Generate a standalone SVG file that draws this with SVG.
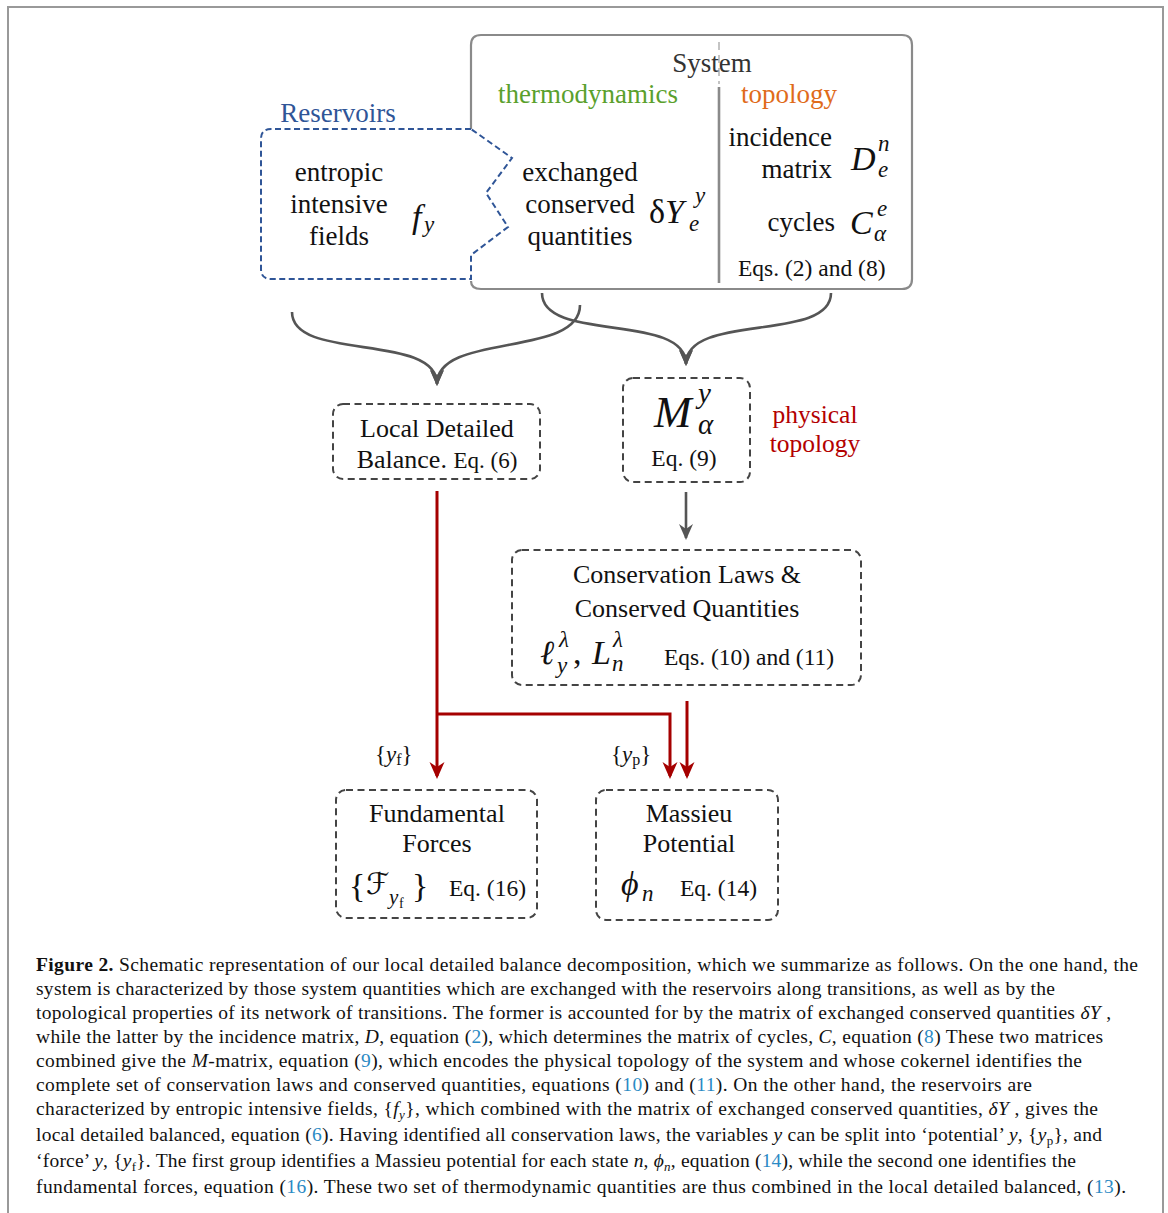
<svg xmlns="http://www.w3.org/2000/svg" width="1168" height="1213" viewBox="0 0 1168 1213">
  <style>
    text { font-family: "Liberation Serif", "DejaVu Serif", serif; fill: #111; }
    .lbl { font-size: 27px; }
    .eq { font-size: 23.5px; }
    .mi { font-style: italic; }
    .big { font-size: 34px; }
    .scr { font-size: 23px; font-style: italic; }
    .box { fill: #fff; stroke: #444; stroke-width: 2; stroke-dasharray: 7 4.5; }
    .gray { fill: none; stroke: #555; stroke-width: 2.6; }
    .red { fill: none; stroke: #a50000; stroke-width: 3; }
    .cap { font-size: 19.5px; }
    .ref { fill: #2a8ac4; }
  </style>
  <defs>
    <marker id="ahGray" markerUnits="userSpaceOnUse" markerWidth="18" markerHeight="16" refX="14" refY="7" orient="auto">
      <path d="M0,0 L16,7 L0,14 L5,7 Z" fill="#555"/>
    </marker>
    <marker id="ahRed" markerUnits="userSpaceOnUse" markerWidth="18" markerHeight="16" refX="14" refY="7.5" orient="auto">
      <path d="M0,0 L17,7.5 L0,15 L5,7.5 Z" fill="#a50000"/>
    </marker>
  </defs>

  <rect width="1168" height="1213" fill="#fff"/>
  <!-- page frame -->
  <rect x="8" y="7" width="1155" height="1230" fill="none" stroke="#999" stroke-width="2"/>

  <!-- System box -->
  <g id="system">
    <path d="M471,129 V45 Q471,35 481,35 H902 Q912,35 912,45 V279 Q912,289 902,289 H481 Q471,289 471,281" fill="none" stroke="#8a8a8a" stroke-width="2.2"/>
    <line x1="719" y1="42" x2="719" y2="84" stroke="#c4c4c4" stroke-width="2" stroke-dasharray="8 5"/>
    <line x1="719" y1="87" x2="719" y2="283" stroke="#8a8a8a" stroke-width="2.6"/>
    <text class="lbl" x="712" y="72" text-anchor="middle" style="fill:#333">System</text>
    <text class="lbl" x="588" y="103" text-anchor="middle" style="fill:#5aa02c">thermodynamics</text>
    <text class="lbl" x="789" y="103" text-anchor="middle" style="fill:#e06b1a">topology</text>

    <text class="lbl" x="580" y="181" text-anchor="middle">exchanged</text>
    <text class="lbl" x="580" y="213" text-anchor="middle">conserved</text>
    <text class="lbl" x="580" y="245" text-anchor="middle">quantities</text>
    <text class="big" x="649" y="223">δ<tspan class="mi">Y</tspan></text>
    <text class="scr" x="695" y="203">y</text>
    <text class="scr" x="689" y="231">e</text>

    <text class="lbl" x="832" y="146" text-anchor="end">incidence</text>
    <text class="lbl" x="832" y="178" text-anchor="end">matrix</text>
    <text class="big mi" x="851" y="170">D</text>
    <text class="scr" x="878" y="151">n</text>
    <text class="scr" x="878" y="177">e</text>

    <text class="lbl" x="835" y="231" text-anchor="end">cycles</text>
    <text class="big mi" x="850" y="234">C</text>
    <text class="scr" x="877" y="216">e</text>
    <text class="scr" x="874" y="241">α</text>

    <text class="eq" x="738" y="276">Eqs. (2) and (8)</text>
  </g>

  <!-- Reservoirs -->
  <g id="reservoirs">
    <path d="M471,129 H271 Q261,129 261,139 V269 Q261,279 271,279 H471 V255 L508,227 L486,193 L512,158 Z" fill="none" stroke="#2f5597" stroke-width="2" stroke-dasharray="6 3.5"/>
    <text class="lbl" x="338" y="122" text-anchor="middle" style="fill:#2f5597">Reservoirs</text>
    <text class="lbl" x="339" y="181" text-anchor="middle">entropic</text>
    <text class="lbl" x="339" y="213" text-anchor="middle">intensive</text>
    <text class="lbl" x="339" y="245" text-anchor="middle">fields</text>
    <text class="big mi" x="412" y="228">f</text>
    <text class="scr" x="424" y="232">y</text>
  </g>

  <!-- Local detailed balance -->
  <g id="ldb">
    <rect class="box" x="333" y="404" width="207" height="75" rx="10"/>
    <text class="lbl" x="437" y="437" text-anchor="middle" style="font-size:26px">Local Detailed</text>
    <text x="437" y="468" text-anchor="middle" style="font-size:26px">Balance. <tspan style="font-size:23px">Eq. (6)</tspan></text>
  </g>

  <!-- M matrix -->
  <g id="mmatrix">
    <rect class="box" x="623" y="378" width="127" height="104" rx="10"/>
    <text class="mi" x="654" y="427" style="font-size:45px">M</text>
    <text class="mi" x="698" y="403" style="font-size:29px">y</text>
    <text class="mi" x="698" y="434" style="font-size:29px">α</text>
    <text class="eq" x="684" y="466" text-anchor="middle">Eq. (9)</text>
  </g>

  <g id="physlabel">
    <text x="815" y="423" text-anchor="middle" style="fill:#b30000;font-size:25.5px">physical</text>
    <text x="815" y="452" text-anchor="middle" style="fill:#b30000;font-size:25.5px">topology</text>
  </g>

  <!-- Conservation laws -->
  <g id="conservation">
    <rect class="box" x="512" y="550" width="349" height="135" rx="10"/>
    <text class="lbl" x="687" y="583" text-anchor="middle" style="font-size:26px">Conservation Laws &amp;</text>
    <text class="lbl" x="687" y="617" text-anchor="middle" style="font-size:26px">Conserved Quantities</text>
    <text class="big mi" x="540" y="664">ℓ</text>
    <text class="scr" x="559" y="647">λ</text>
    <text class="scr" x="557" y="673">y</text>
    <text class="big" x="573" y="664">,</text>
    <text class="big mi" x="592" y="664">L</text>
    <text class="scr" x="613" y="647">λ</text>
    <text class="scr" x="612" y="671">n</text>
    <text class="eq" x="664" y="665">Eqs. (10) and (11)</text>
  </g>

  <!-- Fundamental forces -->
  <g id="forces">
    <rect class="box" x="336" y="790" width="201" height="128" rx="10"/>
    <text class="lbl" x="437" y="822" text-anchor="middle" style="font-size:26px">Fundamental</text>
    <text class="lbl" x="437" y="852" text-anchor="middle" style="font-size:26px">Forces</text>
    <text x="349" y="897" style="font-size:34px">{</text>
    <text x="366" y="894" style="font-size:30px;font-family:'DejaVu Sans','DejaVu Serif',serif">ℱ</text>
    <text class="mi" x="389" y="904" style="font-size:21px">y</text>
    <text x="399" y="908" style="font-size:14px">f</text>
    <text x="412" y="897" style="font-size:34px">}</text>
    <text class="eq" x="449" y="896">Eq. (16)</text>
  </g>

  <!-- Massieu potential -->
  <g id="massieu">
    <rect class="box" x="596" y="790" width="182" height="130" rx="10"/>
    <text class="lbl" x="689" y="822" text-anchor="middle" style="font-size:26px">Massieu</text>
    <text class="lbl" x="689" y="852" text-anchor="middle" style="font-size:26px">Potential</text>
    <text class="big mi" x="621" y="895">ϕ</text>
    <text class="scr" x="642" y="901">n</text>
    <text class="eq" x="680" y="896">Eq. (14)</text>
  </g>

  <!-- connectors -->
  <g id="connectors">
    <path class="gray" d="M292,312 C292,362 437,332 437,384" marker-end="url(#ahGray)"/>
    <path class="gray" d="M580,305 C580,358 437,332 437,384" marker-end="url(#ahGray)"/>
    <path class="gray" d="M542,293 C542,343 686,312 686,364" marker-end="url(#ahGray)"/>
    <path class="gray" d="M831,293 C831,343 686,312 686,364" marker-end="url(#ahGray)"/>
    <path class="gray" d="M686,492 V538" marker-end="url(#ahGray)"/>

    <path class="red" d="M437,491 V776" marker-end="url(#ahRed)"/>
    <path class="red" d="M437,714 H670 V776" marker-end="url(#ahRed)"/>
    <path class="red" d="M687,701 V776" marker-end="url(#ahRed)"/>
    <text x="375" y="762" style="font-size:23px">{<tspan class="mi">y</tspan><tspan style="font-size:16px" dy="3">f</tspan><tspan dy="-3">}</tspan></text>
    <text x="611" y="762" style="font-size:23px">{<tspan class="mi">y</tspan><tspan style="font-size:16px" dy="3">p</tspan><tspan dy="-3">}</tspan></text>
  </g>

  <!-- caption -->
  <g id="caption" class="cap">
    <text class="cap" x="36" y="971" textLength="1102" lengthAdjust="spacing"><tspan font-weight="bold">Figure 2.</tspan> Schematic representation of our local detailed balance decomposition, which we summarize as follows. On the one hand, the</text>
    <text class="cap" x="36" y="995" textLength="1019" lengthAdjust="spacing">system is characterized by those system quantities which are exchanged with the reservoirs along transitions, as well as by the</text>
    <text class="cap" x="36" y="1019" textLength="1075" lengthAdjust="spacing">topological properties of its network of transitions. The former is accounted for by the matrix of exchanged conserved quantities <tspan class="mi">δY</tspan> ,</text>
    <text class="cap" x="36" y="1043" textLength="1067" lengthAdjust="spacing">while the latter by the incidence matrix, <tspan class="mi">D</tspan>, equation (<tspan class="ref">2</tspan>), which determines the matrix of cycles, <tspan class="mi">C</tspan>, equation (<tspan class="ref">8</tspan>) These two matrices</text>
    <text class="cap" x="36" y="1067" textLength="1046" lengthAdjust="spacing">combined give the <tspan class="mi">M</tspan>-matrix, equation (<tspan class="ref">9</tspan>), which encodes the physical topology of the system and whose cokernel identifies the</text>
    <text class="cap" x="36" y="1091" textLength="996" lengthAdjust="spacing">complete set of conservation laws and conserved quantities, equations (<tspan class="ref">10</tspan>) and (<tspan class="ref">11</tspan>). On the other hand, the reservoirs are</text>
    <text class="cap" x="36" y="1115" textLength="1062" lengthAdjust="spacing">characterized by entropic intensive fields, {<tspan class="mi">f</tspan><tspan class="mi" style="font-size:13px" dy="4">y</tspan><tspan dy="-4">}, which combined with the matrix of exchanged conserved quantities, </tspan><tspan class="mi">δY</tspan> , gives the</text>
    <text class="cap" x="36" y="1141" textLength="1066" lengthAdjust="spacing">local detailed balanced, equation (<tspan class="ref">6</tspan>). Having identified all conservation laws, the variables <tspan class="mi">y</tspan> can be split into ‘potential’ <tspan class="mi">y</tspan>, {<tspan class="mi">y</tspan><tspan style="font-size:13px" dy="4">p</tspan><tspan dy="-4">}, and</tspan></text>
    <text class="cap" x="36" y="1167" textLength="1040" lengthAdjust="spacing">‘force’ <tspan class="mi">y</tspan>, {<tspan class="mi">y</tspan><tspan style="font-size:13px" dy="4">f</tspan><tspan dy="-4">}. The first group identifies a Massieu potential for each state </tspan><tspan class="mi">n</tspan>, <tspan class="mi">ϕ</tspan><tspan class="mi" style="font-size:13px" dy="4">n</tspan><tspan dy="-4">, equation (</tspan><tspan class="ref">14</tspan>), while the second one identifies the</text>
    <text class="cap" x="36" y="1193" textLength="1090" lengthAdjust="spacing">fundamental forces, equation (<tspan class="ref">16</tspan>). These two set of thermodynamic quantities are thus combined in the local detailed balanced, (<tspan class="ref">13</tspan>).</text>
  </g>
</svg>
